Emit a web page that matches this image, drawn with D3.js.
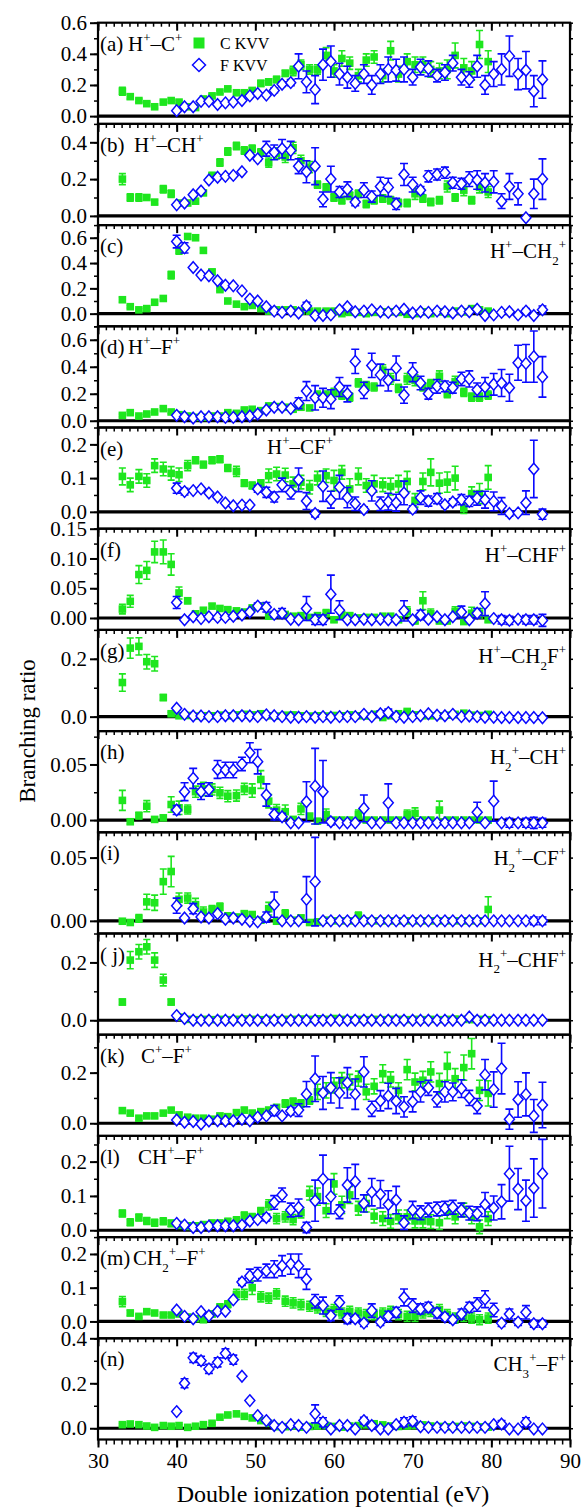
<!DOCTYPE html>
<meta charset="utf-8">
<body style="margin:0;background:#fff">
<div id="chart"></div>
<script src="https://d3js.org/d3.v7.min.js"></script>
<script>

// photon energies of the two Auger series (eV)
var cEnergy = [33.1,34.1,35.2,36.2,37.2,38.3,39.3,40.3,41.4,42.4,43.4,44.5,45.5,46.5,47.6,48.6,49.6,50.7,51.7,52.7,53.8,54.8,55.8,56.9,57.9,59.0,60.0,61.0,62.0,63.1,64.1,65.1,66.2,67.2,68.2,69.3,70.3,71.3,72.3,73.4,74.4,75.4,76.5,77.5,78.5,79.6];
var fEnergy = [40.0,41.0,42.1,43.1,44.1,45.2,46.2,47.2,48.3,49.3,50.3,51.4,52.4,53.4,54.5,55.5,56.5,57.6,58.6,59.6,60.7,61.7,62.7,63.8,64.8,65.9,66.9,67.9,68.9,70.0,71.0,72.0,73.1,74.1,75.1,76.2,77.2,78.2,79.2,80.3,81.3,82.3,83.4,84.4,85.4,86.5];

// (a) H+ - C+
var aC  = [.16,.125,.10,.08,.06,.09,.10,.09,.06,.055,.11,.13,.155,.175,.15,.15,.165,.21,.22,.235,.275,.29,.33,.30,.30,.39,.29,.37,.34,.26,.36,.38,.26,.42,.27,.35,.33,.33,.30,.29,.30,.39,.31,.29,.46,.35];
var aCe = [.025,.015,.01,.01,.01,.01,.01,.01,.01,.01,.01,.01,.01,.01,.01,.01,.015,.02,.02,.02,.02,.03,.03,.03,.03,.05,.04,.05,.04,.04,.04,.04,.04,.06,.05,.05,.05,.05,.05,.05,.06,.08,.06,.06,.09,.07];
var aF  = [.035,.06,.06,.095,.095,.075,.085,.09,.10,.13,.145,.135,.165,.205,.215,.32,.22,.17,.33,.35,.27,.25,.21,.27,.20,.27,.30,.295,.30,.25,.315,.305,.26,.28,.34,.25,.235,.32,.20,.27,.30,.385,.27,.295,.16,.235];
var aFe = [0,0,0,0,0,0,0,0,0,0,0,0,.015,.015,.02,.08,.07,.09,.1,.1,.07,.07,.05,.06,.06,.06,.08,.07,.08,.05,.05,.05,.04,.05,.05,.05,.05,.07,.06,.08,.1,.13,.1,.12,.1,.12];

// (b) H+ - CH+
var bC  = [.20,.10,.10,.10,.075,.145,.12,.07,.07,.08,.125,.22,.29,.35,.38,.355,.365,.345,.29,.34,.32,.37,.30,.265,.17,.155,.10,.085,.11,.12,.065,.085,.095,.085,.07,.07,.12,.095,.075,.085,.16,.10,.14,.085,.155,.13];
var bCe = [.03,.02,.02,.01,.01,.02,.02,.01,.01,.01,.01,.015,.02,.02,.02,.02,.02,.02,.025,.03,.03,.03,.03,.03,.02,.02,.02,.02,.02,.02,.02,.02,.02,.02,.02,.02,.03,.02,.02,.02,.03,.02,.03,.02,.03,.03];
var bF  = [.06,.07,.115,.135,.195,.21,.215,.22,.24,.33,.31,.365,.345,.365,.355,.27,.24,.27,.09,.20,.13,.145,.075,.14,.105,.16,.155,.065,.225,.17,.14,.215,.225,.235,.18,.175,.20,.195,.18,.185,.08,.16,.12,-.01,.12,.20];
var bFe = [0,0,0,0,0,0,0,0,0,.01,.01,.04,.04,.05,.05,.04,.06,.1,.04,.07,.03,.04,.02,.04,.03,.05,.05,.03,.06,.04,.02,.03,.03,.03,.03,.03,.04,.05,.05,.06,.04,.07,.06,0,.08,.11];

// (c) H+ - CH2+
var cC  = [.11,.055,.03,.04,.09,.12,.305,.50,.61,.60,.50,.33,.19,.10,.075,.055,.065,.04,.02,.03,.03,.03,.02,.02,.02,.02,.02,0,.01,.01,0,.01,.015,.015,.01,-.005,0,.015,0,.015,0,.02,.015,.04,.03,.02];
var cCe = [.02,.01,.01,.01,.01,.01,.03,.03,.02,.02,.02,.02,.01,.01,.01,.01,.01,.01,.01,.01,.01,.01,.01,.01,.01,.01,.01,.01,.01,.01,.01,.01,.01,.01,.01,.01,.01,.01,.01,.01,.01,.01,.01,.01,.01,.01];
var cF  = [.57,.52,.365,.305,.30,.26,.225,.22,.18,.115,.10,.055,.02,.01,.02,.005,.06,-.015,-.015,-.01,.03,.055,.015,.02,.03,.015,.01,.02,.035,.005,.015,.01,.02,.015,.005,.02,.015,.035,-.015,-.01,.01,.015,-.01,.02,-.015,.03];
var cFe = [.05,.04,0,0,0,0,0,0,0,0,0,0,0,0,0,0,.03,0,0,0,0,0,0,0,0,0,0,0,0,0,0,0,0,0,0,0,0,0,0,0,0,0,0,.02,0,.03];

// (d) H+ - F+
var dC  = [.04,.06,.035,.05,.065,.09,.065,.045,.035,.025,.025,.035,.035,.06,.055,.08,.085,.075,.11,.105,.10,.085,.10,.095,.19,.19,.21,.19,.175,.28,.26,.25,.375,.31,.24,.31,.30,.25,.275,.33,.20,.29,.21,.175,.175,.19];
var dCe = [.01,.01,.01,.01,.01,.01,.01,.01,.01,.01,.01,.01,.01,.01,.01,.01,.01,.01,.015,.015,.015,.015,.015,.015,.03,.03,.03,.03,.03,.03,.03,.03,.04,.04,.03,.04,.04,.03,.03,.04,.03,.04,.03,.03,.03,.03];
var dF  = [.04,.03,.02,.03,.03,.03,.025,.025,.03,.035,.05,.08,.10,.10,.09,.13,.22,.17,.17,.16,.25,.20,.44,.225,.41,.34,.30,.39,.19,.36,.28,.20,.255,.255,.245,.31,.31,.23,.25,.27,.28,.245,.43,.425,.475,.325];
var dFe = [0,0,0,0,0,0,0,0,0,0,0,0,0,0,0,.04,.07,.09,.07,.07,.07,.06,.09,.06,.09,.08,.08,.09,.06,.07,.05,.04,.05,.04,.04,.05,.06,.05,.07,.08,.1,.1,.13,.14,.19,.15];

// (e) H+ - CF+
var eC  = [.105,.08,.105,.093,.137,.127,.114,.11,.137,.153,.14,.153,.156,.13,.12,.085,.078,.085,.107,.112,.109,.083,.088,.073,.10,.107,.093,.117,.068,.105,.078,.083,.08,.075,.083,.09,.034,.09,.117,.085,.088,.10,.01,.054,.054,.102];
var eCe = [.025,.02,.02,.02,.02,.02,.02,.02,.015,.01,.01,.01,.01,.01,.015,.01,.01,.01,.02,.02,.02,.02,.02,.02,.02,.02,.03,.02,.03,.025,.02,.025,.02,.025,.025,.03,.02,.025,.04,.03,.03,.035,.015,.02,.03,.035];
var eF  = [.07,.06,.063,.068,.056,.044,.026,.018,.02,.02,.068,.058,.044,.08,.058,.095,.032,-.005,.076,.036,.073,.042,.024,.007,.062,.024,.03,.027,.056,.008,.042,.032,.039,.021,.029,.036,.031,.04,.036,.031,.017,-.005,-.003,.027,.127,-.007];
var eFe = [.015,.01,0,0,0,0,0,0,0,0,.01,.015,.015,.02,.02,.035,.025,.01,.045,.025,.035,.03,.02,.008,.03,.02,.025,.025,.035,.01,.02,.015,.015,.008,.01,.015,.015,.02,.025,.028,.025,.008,.005,.035,.085,.015];

// (f) H+ - CHF+
var fC  = [.015,.028,.073,.08,.111,.111,.09,.042,.029,.007,.013,.02,.016,.014,.012,.01,.017,.02,.003,.006,.006,.003,.004,.001,.004,.008,-.003,.005,.004,0,.001,.001,.003,.003,-.003,.011,-.005,.029,.007,-.005,-.005,.011,-.006,.008,.008,-.003];
var fCe = [.008,.01,.015,.015,.018,.02,.018,.01,.005,.004,.004,.004,.003,.003,.003,.003,.003,.003,.003,.003,.004,.004,.004,.004,.004,.006,.004,.004,.004,.004,.004,.004,.004,.004,.004,.008,.004,.015,.008,.004,.004,.008,.004,.01,.008,.004];
var fF  = [.026,-.003,.002,-.001,.002,.001,.001,.003,.005,.01,.02,.018,.006,.008,-.002,-.003,.016,-.003,-.003,.04,.013,-.003,-.003,-.002,-.003,-.002,-.003,-.003,.012,-.003,.005,-.002,.002,-.003,.002,.01,-.003,.008,.024,-.001,-.003,-.004,-.002,-.003,-.003,-.004];
var fFe = [.01,0,0,0,0,0,0,0,0,0,.005,.008,.005,.008,0,0,.02,.008,.008,.032,.016,0,0,0,0,0,0,0,.017,0,.008,0,0,0,0,.01,0,.008,.02,0,.007,.007,0,.007,.007,.01];

// (g) H+ - CH2F+
var gC  = [.118,.237,.243,.19,.183,.066,.01,.003,.004,.002,.003,.003,.005,.003,.006,.008,.006,.01,.003,.002,.005,.006,.003,.002,.003,.002,.004,.003,.006,.003,.002,.008,-.003,.003,.01,.018,.006,.003,.003,.003,.005,.008,.012,.005,.004,.008];
var gCe = [.03,.035,.03,.025,.025,.01,.005,.005,.005,.005,.005,.005,.005,.005,.005,.005,.005,.005,.005,.005,.005,.005,.005,.005,.005,.005,.005,.005,.005,.005,.005,.005,.005,.005,.005,.005,.005,.005,.005,.005,.005,.005,.005,.005,.005,.005];
var gF  = [.029,.008,.002,.002,0,0,.003,.003,.003,.002,0,.006,.003,0,-.002,-.002,0,-.002,0,-.002,0,0,0,.008,0,.01,.014,0,-.002,0,.003,.01,.005,.003,.008,0,.002,0,-.002,-.002,-.003,-.003,-.003,-.003,-.003,-.004];
var gFe = [0,0,0,0,0,0,0,0,0,0,0,0,0,0,0,0,0,0,0,0,0,0,0,0,0,.01,.012,0,0,0,0,0,0,0,0,0,0,0,0,0,0,0,0,0,0,0];

// (h) H2+ - CH+
var hC  = [.0177,-.0015,.004,.0125,.0006,.002,.014,.011,.0095,.0255,.028,.0275,.0245,.0215,.022,.028,.0265,.0365,.017,.009,.0075,.0006,.010,.0036,-.001,.005,0,0,0,.005,0,0,0,0,0,.005,.006,0,0,.009,0,0,0,0,0,0];
var hCe = [.009,.002,.003,.005,.002,.002,.007,.006,.004,.005,.006,.005,.005,.005,.005,.005,.006,.008,.006,.005,.006,.002,.005,.002,.002,.005,.002,.002,.002,.004,.002,.002,.002,.002,.002,.004,.005,.002,.002,.008,.002,.002,.002,.002,.002,.002];
var hF  = [.009,.0255,.0375,.0255,.0275,.0455,.045,.045,.0505,.0605,.0525,.0225,.005,.003,-.0025,-.0025,.0165,.0305,.0255,-.0015,-.0025,-.0025,-.0025,.0105,-.0025,-.0025,.0155,-.0025,-.0025,-.0025,-.0025,-.0025,-.0025,-.0025,-.0025,-.0025,-.0025,.007,-.0025,.017,-.0025,-.0025,-.0025,-.0025,-.0025,-.0025];
var hFe = [.004,.008,.009,.007,.006,.008,.007,.007,.006,.009,.011,.01,.005,.003,0,0,.018,.034,.028,.003,0,0,0,.012,0,0,.017,0,0,0,0,0,0,0,0,0,0,.009,0,.018,0,.004,0,.004,.005,.004];

// (i) H2+ - CF+
var iC  = [-.0003,-.0013,.002,.015,.0143,.031,.039,.017,.018,.0128,.007,.009,.011,.004,.003,.0057,.005,.0005,.0096,-.0003,.0057,.0005,.0023,-.0013,-.0008,.0005,0,0,0,.004,0,0,0,0,0,0,0,0,0,0,0,0,0,0,0,.009];
var iCe = [.001,.001,.003,.006,.006,.01,.012,.005,.004,.005,.004,.003,.003,.002,.002,.002,.002,.002,.005,.002,.003,.002,.002,.002,.002,.002,.001,.001,.001,.003,.001,.001,.001,.001,.001,.001,.001,.001,.001,.001,.001,.001,.001,.001,.001,.01];
var iF  = [.012,.0023,.0096,.003,.0023,.0057,.0013,.0023,.0013,-.0003,-.0008,.003,.0128,0,0,0,.017,.031,0,0,0,0,0,0,0,0,0,0,0,0,0,0,0,0,0,0,0,0,0,0,0,0,0,0,0,0];
var iFe = [.006,0,.004,0,0,0,0,0,0,0,0,.004,.01,0,0,0,.018,.035,0,0,0,0,0,0,0,0,0,0,0,0,0,0,0,0,0,0,0,0,0,0,0,0,0,0,.003,.003];

// (j) H2+ - CHF+
var jC  = [.063,.208,.237,.254,.208,.139,.063,.011,.003,.002,.003,.002,.003,.002,.003,.004,.003,.002,.003,.002,.003,.003,.004,.003,.005,.003,.006,.003,.002,.003,.002,.003,.002,.003,.003,.002,.003,.002,.003,.002,.003,.004,.003,.002,.003,.002];
var jCe = [.01,.03,.025,.025,.025,.02,.01,.003,.002,.002,.002,.002,.002,.002,.002,.002,.002,.002,.002,.002,.002,.002,.002,.002,.002,.002,.002,.002,.002,.002,.002,.002,.002,.002,.002,.002,.002,.002,.002,.002,.002,.002,.002,.002,.002,.002];
var jF  = [.016,.006,0,0,0,0,0,0,0,0,0,0,0,0,0,0,0,0,0,0,0,0,0,0,0,0,0,0,0,0,0,0,0,0,0,0,.011,0,0,0,0,0,0,0,0,0];
var jFe = [0,0,0,0,0,0,0,0,0,0,0,0,0,0,0,0,0,0,0,0,0,0,0,0,0,0,0,0,0,0,0,0,0,0,0,0,0,0,0,0,0,0,0,0,0,0];

// (k) C+ - F+
var kC  = [.05,.04,.02,.029,.029,.04,.052,.033,.024,.02,.02,.016,.029,.026,.042,.052,.04,.046,.052,.063,.078,.085,.078,.09,.124,.13,.15,.17,.163,.176,.124,.146,.196,.173,.13,.212,.163,.17,.203,.157,.225,.176,.22,.275,.13,.118];
var kCe = [.01,.008,.008,.008,.008,.008,.008,.008,.008,.008,.008,.008,.008,.008,.01,.01,.01,.01,.01,.01,.015,.015,.015,.015,.03,.03,.03,.03,.03,.03,.03,.03,.035,.03,.03,.04,.035,.035,.04,.04,.055,.04,.05,.06,.04,.05];
var kF  = [.013,.004,.007,-.003,.009,.01,.009,.01,.016,.01,.024,.029,.05,.029,.048,.052,.115,.176,.12,.14,.12,.16,.115,.203,.057,.089,.108,.088,.065,.085,.124,.14,.094,.124,.124,.137,.1,.068,.192,.133,.216,.016,.094,.114,.029,.072];
var kFe = [0,0,0,0,0,0,0,0,0,0,0,0,.02,0,.015,.025,.05,.09,.065,.06,.06,.06,.06,.06,.03,.04,.05,.05,.04,.04,.04,.03,.03,.04,.035,.035,.03,.03,.06,.07,.1,.04,.07,.085,.065,.09];

// (l) CH+ - F+
var lC  = [.049,.023,.037,.027,.022,.026,.02,.015,.012,.012,.015,.02,.02,.025,.029,.043,.039,.056,.074,.034,.039,.031,.051,.108,.098,.057,.135,.074,.103,.064,.078,.041,.034,.026,.039,.039,.027,.027,.025,.022,.054,.039,.059,.039,.01,.034];
var lCe = [.01,.01,.01,.01,.01,.01,.01,.01,.01,.01,.01,.01,.01,.01,.01,.01,.01,.01,.015,.015,.015,.015,.015,.02,.025,.02,.03,.025,.025,.02,.025,.02,.02,.02,.02,.02,.02,.02,.02,.02,.02,.02,.02,.02,.02,.02];
var lF  = [.02,.015,.008,.008,.012,.013,.013,.013,.015,.027,.031,.037,.081,.103,.059,.066,.008,.086,.149,.098,.054,.132,.142,.078,.111,.105,.075,.088,.022,.059,.051,.059,.062,.064,.067,.059,.05,.048,.075,.065,.083,.165,.12,.086,.123,.165];
var lFe = [0,0,0,0,0,0,0,0,0,0,0,.01,.02,.02,.02,.025,.015,.06,.07,.05,.02,.05,.05,.025,.04,.04,.04,.04,.02,.025,.02,.02,.02,.02,.02,.02,.02,.02,.035,.035,.05,.08,.06,.06,.085,.1];

// (m) CH2+ - F+
var mC  = [.059,.025,.015,.029,.025,.019,.019,.022,.013,.008,.005,.022,.042,.051,.08,.08,.1,.073,.069,.082,.06,.055,.05,.045,.04,.03,.035,.025,.03,.025,.02,.02,.025,.03,.02,.015,.015,.025,.03,.035,.02,.01,.015,.01,.005,.01];
var mCe = [.015,.008,.005,.005,.005,.005,.005,.005,.005,.005,.005,.008,.01,.01,.015,.015,.02,.015,.015,.015,.015,.015,.015,.015,.015,.015,.015,.015,.015,.015,.015,.015,.015,.015,.015,.015,.015,.015,.015,.015,.015,.015,.015,.015,.015,.015];
var mF  = [.034,.015,.008,.029,.017,.03,.03,.064,.117,.135,.14,.15,.155,.165,.17,.165,.125,.06,.047,.017,.056,.008,.008,-.005,.032,-.002,.015,.027,.071,.047,.037,.042,.025,.013,.005,.022,.042,.05,.066,.034,-.005,.022,-.002,.027,-.007,-.007];
var mFe = [0,0,0,0,0,0,0,0,.01,.02,.02,.02,.025,.03,.03,.035,.03,.02,.025,.015,.02,.015,.01,.01,.02,.01,.015,.015,.025,.02,.015,.015,.015,.01,.01,.015,.015,.02,.025,.02,.01,.015,.01,.02,.01,.01];

// (n) CH3+ - F+
var nC  = [.016,.019,.016,.01,.004,.012,.009,.012,.004,.009,.016,.022,.049,.059,.064,.053,.046,.034,.022,.007,.007,.01,.005,.008,.01,.012,.008,.005,.01,.012,.015,.02,.015,.01,.008,.01,.012,.015,.01,.008,.006,.008,.01,.008,.006,.005];
var nCe = [.005,.005,.005,.005,.005,.005,.005,.005,.005,.005,.005,.005,.005,.005,.005,.005,.005,.005,.005,.005,.005,.005,.005,.005,.005,.005,.005,.005,.005,.005,.005,.005,.005,.005,.005,.005,.005,.005,.005,.005,.005,.005,.005,.005,.005,.005];
var nF  = [.074,.2,.313,.30,.264,.293,.333,.305,.231,.123,.056,.034,.012,.004,.016,.012,.004,.064,.027,-.003,.012,.012,-.003,.034,.012,-.003,-.003,.016,.027,.031,.007,.004,.004,.004,.004,.004,.004,.004,.004,.016,.019,-.003,-.003,.027,-.003,-.003];
var nFe = [0,.02,.02,.02,.02,.02,.02,.02,0,0,0,0,0,0,0,0,0,.04,.02,0,0,0,0,.015,0,0,0,0,.02,.02,0,0,0,0,0,0,0,0,0,0,.015,0,0,.02,0,0];

// y ranges and tick labels of the 14 panels
var yDomains = [[-.05,.6],[-.05,.5],[-.1,.7],[-.05,.7],[-.05,.25],[-.02,.15],[-.05,.3],[-.011,.08],[-.01,.07],[-.05,.3],[-.05,.35],[-.02,.275],[-.05,.25],[-.05,.4]];
var yTicks = [[0,.2,.4,.6],[0,.2,.4],[0,.2,.4,.6],[0,.2,.4,.6],[0,.1,.2],[0,.05,.1,.15],[0,.2],[0,.05],[0,.05],[0,.2],[0,.2],[0,.1,.2],[0,.1,.2],[0,.2,.4]];
var yMinor = [.1,.1,.1,.1,.05,.025,.1,.025,.025,.1,.1,.05,.05,.1];
var letters = ["(a)","(b)","(c)","(d)","(e)","(f)","(g)","(h)","(i)","( j)","(k)","(l)","(m)","(n)"];
var ions = ["H^+–C^+","H^+–CH^+","H^+–CH_2^+","H^+–F^+","H^+–CF^+","H^+–CHF^+","H^+–CH_2F^+","H_2^+–CH^+","H_2^+–CF^+","H_2^+–CHF^+","C^+–F^+","CH^+–F^+","CH_2^+–F^+","CH_3^+–F^+"];
var xTicks = [30,40,50,60,70,80,90];

var series = [[aC,aCe,aF,aFe],[bC,bCe,bF,bFe],[cC,cCe,cF,cFe],[dC,dCe,dF,dFe],[eC,eCe,eF,eFe],[fC,fCe,fF,fFe],[gC,gCe,gF,gFe],[hC,hCe,hF,hFe],[iC,iCe,iF,iFe],[jC,jCe,jF,jFe],[kC,kCe,kF,kFe],[lC,lCe,lF,lFe],[mC,mCe,mF,mFe],[nC,nCe,nF,nFe]];

// where the ion name sits: x position (or "right") in each panel
var ionX = [128,134,"right",128,267,"right","right","right","right","right",141,138,133,"right"];

var W = 581, H = 1509;
var FONT = "'Liberation Serif','Times New Roman',Times,serif";
var GREEN = "#1ee61e", BLUE = "#0a0aff";
var top0 = 22.7, ph = 101.2;

var svg = d3.select("#chart").append("svg")
    .attr("width", W).attr("height", H)
    .style("font-family", FONT);

var x = d3.scaleLinear().domain([30, 90]).range([98, 570]);

function richText(sel, str, size) {
  var parts = [];
  for (var k = 0; k < str.length; k++) {
    var ch = str[k];
    if (ch === "^" || ch === "_") {
      parts.push({t: str[k+1], s: ch === "^" ? -0.42 : 0.32});
      k++;
    } else if (parts.length && parts[parts.length-1].s === 0) {
      parts[parts.length-1].t += ch;
    } else {
      parts.push({t: ch, s: 0});
    }
  }
  var cur = 0;
  parts.forEach(function(p) {
    var off = p.s * size;
    sel.append("tspan")
      .attr("dy", off - cur)
      .attr("font-size", p.s ? size * 0.62 : size)
      .text(p.t);
    cur = off;
  });
}

series.forEach(function(s, k) {
  var top = top0 + k * ph, bot = top + ph;
  var y = d3.scaleLinear().domain(yDomains[k]).range([bot, top]);
  var g = svg.append("g");

  // minor ticks on top edge (pointing down), major every 10 eV
  g.append("g")
    .attr("transform", "translate(0," + top + ")")
    .call(d3.axisBottom(x).tickValues(d3.range(30, 91, 1)).tickSize(4).tickFormat(""))
    .call(function(a) { a.select(".domain").remove(); a.selectAll("line").attr("stroke-width", 1.5); });
  g.append("g")
    .attr("transform", "translate(0," + top + ")")
    .call(d3.axisBottom(x).tickValues(xTicks).tickSize(8).tickFormat(""))
    .call(function(a) { a.select(".domain").remove(); a.selectAll("line").attr("stroke-width", 2); });

  // left axis
  var dom = yDomains[k];
  var minors = d3.range(Math.ceil(dom[0] / yMinor[k] - 1e-6) * yMinor[k], dom[1] + 1e-6, yMinor[k]);
  var fmt = yTicks[k][1] < 0.1 ? d3.format(".2f") : d3.format(".1f");
  g.append("g")
    .attr("transform", "translate(" + x(30) + ",0)")
    .call(d3.axisLeft(y).tickValues(minors).tickSize(4).tickFormat(""))
    .call(function(a) { a.select(".domain").remove(); a.selectAll("line").attr("stroke-width", 1.5); });
  g.append("g")
    .attr("transform", "translate(" + x(30) + ",0)")
    .call(d3.axisLeft(y).tickValues(yTicks[k]).tickSize(8).tickPadding(3).tickFormat(fmt))
    .call(function(a) {
      a.select(".domain").remove();
      a.selectAll("line").attr("stroke-width", 2);
      a.selectAll("text").attr("font-family", FONT).attr("font-size", 21).attr("fill", "#000");
    });
  // right axis
  g.append("g")
    .attr("transform", "translate(" + x(90) + ",0)")
    .call(d3.axisRight(y).tickValues(minors).tickSize(3).tickFormat(""))
    .call(function(a) { a.select(".domain").remove(); a.selectAll("line").attr("stroke-width", 1.5); });

  // zero line
  g.append("line")
    .attr("x1", x(30)).attr("x2", x(90))
    .attr("y1", y(0)).attr("y2", y(0))
    .attr("stroke", "#000").attr("stroke-width", 3.2);

  // frame
  g.append("rect")
    .attr("x", x(30)).attr("y", top)
    .attr("width", x(90) - x(30)).attr("height", ph)
    .attr("fill", "none").attr("stroke", "#000").attr("stroke-width", 2.2);

  var cData = s[0].map(function(v, i) { return {e: cEnergy[i], v: v, err: s[1][i]}; });
  var fData = s[2].map(function(v, i) { return {e: fEnergy[i], v: v, err: s[3][i]}; });

  function errorBars(data, color, cap) {
    var eb = g.append("g").attr("stroke", color).attr("stroke-width", 1.6).attr("fill", "none");
    data.filter(function(d) { return d.err > 0; }).forEach(function(d) {
      var cx = x(d.e), y1 = y(d.v - d.err), y2 = y(d.v + d.err);
      eb.append("path").attr("d",
        "M" + cx + "," + y1 + "V" + y2 +
        "M" + (cx - cap) + "," + y1 + "H" + (cx + cap) +
        "M" + (cx - cap) + "," + y2 + "H" + (cx + cap));
    });
  }

  errorBars(cData, GREEN, 3.5);
  g.append("g").selectAll("rect").data(cData).enter().append("rect")
    .attr("x", function(d) { return x(d.e) - 3.8; })
    .attr("y", function(d) { return y(d.v) - 3.8; })
    .attr("width", 7.6).attr("height", 7.6)
    .attr("fill", GREEN);

  errorBars(fData, BLUE, 4);
  g.append("g").selectAll("path").data(fData).enter().append("path")
    .attr("d", "M0,-5.8L5,0L0,5.8L-5,0Z")
    .attr("transform", function(d) { return "translate(" + x(d.e) + "," + y(d.v) + ")"; })
    .attr("fill", "#fff").attr("stroke", BLUE).attr("stroke-width", 1.5);

  // panel letter and ion pair
  g.append("text").attr("x", 100).attr("y", top + 28)
    .attr("font-size", 21).text(letters[k]);
  var t = g.append("text").attr("font-size", 21);
  if (ionX[k] === "right") {
    t.attr("x", 566).attr("y", top + 33).attr("text-anchor", "end");
  } else {
    t.attr("x", ionX[k]).attr("y", top + (k === 4 ? 26 : 28));
  }
  richText(t, ions[k], 21);

  // bottom axis on the last panel
  if (k === series.length - 1) {
    g.append("g")
      .attr("transform", "translate(0," + bot + ")")
      .call(d3.axisBottom(x).tickValues(d3.range(30, 91, 1)).tickSize(5).tickFormat(""))
      .call(function(a) { a.select(".domain").remove(); a.selectAll("line").attr("stroke-width", 1.5); });
    g.append("g")
      .attr("transform", "translate(0," + bot + ")")
      .call(d3.axisBottom(x).tickValues(xTicks).tickSize(8).tickPadding(6).tickFormat(d3.format("d")))
      .call(function(a) {
        a.select(".domain").remove();
        a.selectAll("line").attr("stroke-width", 2);
        a.selectAll("text").attr("font-family", FONT).attr("font-size", 21).attr("fill", "#000");
      });
  }
});

// legend in panel (a)
var leg = svg.append("g");
leg.append("rect").attr("x", 193.5).attr("y", 37.5).attr("width", 11).attr("height", 11).attr("fill", GREEN);
leg.append("text").attr("x", 220).attr("y", 49).attr("font-size", 16).text("C KVV");
leg.append("path").attr("d", "M0,-6.5L6.5,0L0,6.5L-6.5,0Z")
  .attr("transform", "translate(199,65)")
  .attr("fill", "#fff").attr("stroke", BLUE).attr("stroke-width", 1.5);
leg.append("text").attr("x", 220).attr("y", 71).attr("font-size", 16).text("F KVV");

// axis titles
svg.append("text")
  .attr("transform", "translate(35,731) rotate(-90)")
  .attr("text-anchor", "middle").attr("font-size", 23)
  .text("Branching ratio");
svg.append("text")
  .attr("x", 333).attr("y", 1502)
  .attr("text-anchor", "middle").attr("font-size", 24)
  .text("Double ionization potential (eV)");

</script>
</body>
